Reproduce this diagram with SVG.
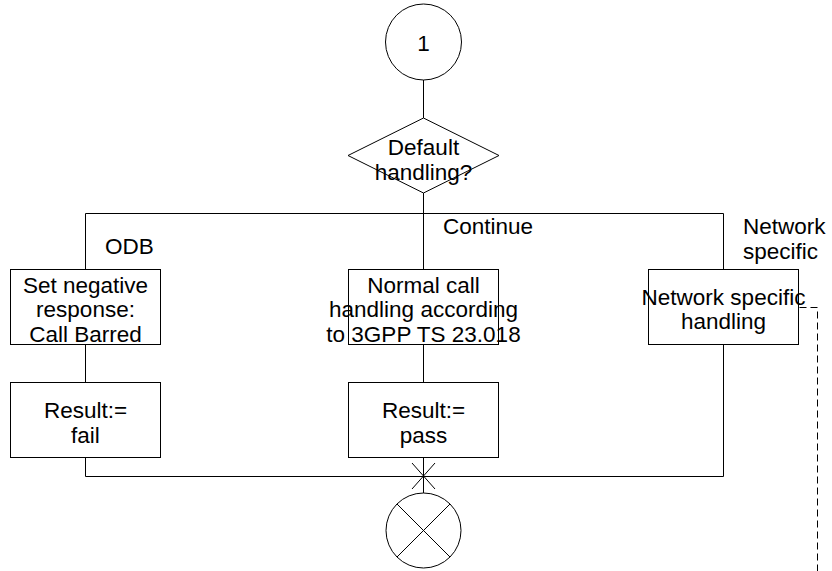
<svg xmlns="http://www.w3.org/2000/svg" width="832" height="571" viewBox="0 0 832 571">
<style>
.s{fill:#fff;stroke:#000;stroke-width:1}
.l{fill:none;stroke:#000;stroke-width:1}
.d{fill:none;stroke:#000;stroke-width:1;stroke-dasharray:7,4}
text{font-family:"Liberation Sans",Arial,sans-serif;font-size:22.5px;fill:#000}
.c{text-anchor:middle}
</style>
<rect width="832" height="571" fill="#fff"/>
<g id="connectors">
<path class="l" d="M423.5,80V118M423.5,193V213.5M85.5,213.5H723.5M85.5,213.5V269M423.5,213.5V269M723.5,213.5V269M85.5,344V382M423.5,344V382M85.5,457V476.5M423.5,457V493M723.5,344V476.5M85.5,476.5H723.5"/>
<path class="l" d="M412,463L435,489M435,463L412,489"/>
<path class="d" d="M799.5,307.5H817.5V571"/>
</g>
<g id="start">
<circle class="s" cx="423.5" cy="42" r="38"/>
<text class="c" x="423.5" y="51">1</text>
</g>
<g id="decision">
<polygon class="s" points="423.5,118 499,155.5 423.5,193 348,155.5"/>
<text class="c" x="423.5" y="155">Default</text>
<text class="c" x="423.5" y="180">handling?</text>
</g>
<g id="labels">
<text x="105" y="254">ODB</text>
<text x="443" y="234">Continue</text>
<text x="743" y="234">Network</text>
<text x="743" y="259">specific</text>
</g>
<g id="setNegative">
<rect class="s" x="10.5" y="269.5" width="150" height="75"/>
<text class="c" x="85.5" y="293">Set negative</text>
<text class="c" x="85.5" y="317">response:</text>
<text class="c" x="85.5" y="342">Call Barred</text>
</g>
<g id="normalCall">
<rect class="s" x="348.5" y="269.5" width="150" height="75"/>
<text class="c" x="423.5" y="293">Normal call</text>
<text class="c" x="423.5" y="317">handling according</text>
<text class="c" x="423.5" y="342">to 3GPP TS 23.018</text>
</g>
<g id="networkSpecific">
<rect class="s" x="648.5" y="269.5" width="150" height="75"/>
<text class="c" x="723.5" y="305">Network specific</text>
<text class="c" x="723.5" y="329">handling</text>
</g>
<g id="resultFail">
<rect class="s" x="10.5" y="382.5" width="150" height="75"/>
<text class="c" x="85.5" y="418">Result:=</text>
<text class="c" x="85.5" y="443">fail</text>
</g>
<g id="resultPass">
<rect class="s" x="348.5" y="382.5" width="150" height="75"/>
<text class="c" x="423.5" y="418">Result:=</text>
<text class="c" x="423.5" y="443">pass</text>
</g>
<g id="end">
<circle class="s" cx="423.5" cy="530.5" r="37.5"/>
<path class="l" d="M397,504L450,557M450,504L397,557"/>
</g>
</svg>
